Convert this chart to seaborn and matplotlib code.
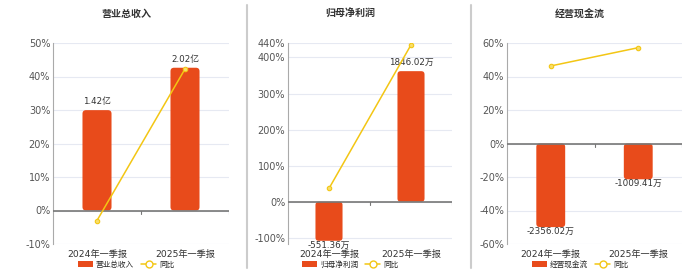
import matplotlib
matplotlib.use("Agg")
import matplotlib.pyplot as plt
import seaborn as sns
import pandas as pd
from matplotlib.patches import Patch, FancyBboxPatch
from matplotlib.lines import Line2D

# ---------------- data ----------------
categories = ["2024年一季报", "2025年一季报"]

titles = ["营业总收入", "归母净利润", "经营现金流"]
bar_names = ["营业总收入", "归母净利润", "经营现金流"]
line_name = "同比"

revenue = [1.42, 2.02]            # 亿
net_profit = [-551.36, 1846.02]   # 万
cash_flow = [-2356.02, -1009.41]  # 万
units = ["亿", "万", "万"]

revenue_yoy = [-3.0, 42.25]       # %
profit_yoy = [37.0, 434.8]
cash_yoy = [46.3, 57.2]

# axis settings (percent axis)
pct_limits = [(-10, 50), (-117, 440), (-60, 60)]
pct_ticks = [[-10, 0, 10, 20, 30, 40, 50],
             [-100, 0, 100, 200, 300, 400, 440],
             [-60, -40, -20, 0, 20, 40, 60]]
bar_scale = [0.0474, 5.1, 47.2]  # bar units per percent

bar_values = [revenue, net_profit, cash_flow]
yoy_values = [revenue_yoy, profit_yoy, cash_yoy]

# ---------------- style ----------------
sns.set_theme(style="white")
plt.rcParams["font.family"] = ["DejaVu Sans", "Noto Sans CJK SC"]

BAR_C = "#E84B1B"
LINE_C = "#F3C614"
GRID_C = "#E6E9F2"
TXT_C = "#333333"
TICK_C = "#555555"

W, H = 700, 272
fig = plt.figure(figsize=(7.0, 2.72), dpi=100)

axes_px = [(53, 229), (288, 452), (507, 682)]
top_px, bot_px = 43, 244
center_px = [126, 350, 580]

for i in range(3):
    l, r = axes_px[i]
    rect = [l / W, 1 - bot_px / H, (r - l) / W, (bot_px - top_px) / H]
    ax = fig.add_axes(rect)
    lo, hi = pct_limits[i]
    ax.set_ylim(lo, hi)
    ax.set_xlim(-0.5, 1.5)
    ax.set_yticks(pct_ticks[i])
    ax.set_yticklabels([f"{t}%" for t in pct_ticks[i]], fontsize=7, color=TICK_C)
    for t in pct_ticks[i]:
        ax.axhline(t, color=GRID_C, lw=0.8, zorder=0)
    ax.set_xticks([0, 1])
    ax.set_xticklabels(categories, fontsize=6.6, color=TXT_C)
    ax.tick_params(axis="y", length=0, pad=2)
    ax.tick_params(axis="x", length=0, pad=4.5)
    for s in ["top", "right", "bottom"]:
        ax.spines[s].set_visible(False)
    ax.spines["left"].set_color("#AAAAAA")
    ax.spines["left"].set_linewidth(0.8)

    # bars on hidden twin axis
    axb = ax.twinx()
    sc = bar_scale[i]
    axb.set_ylim(lo * sc, hi * sc)
    df = pd.DataFrame({"cat": categories, "val": bar_values[i]})
    sns.barplot(data=df, x="cat", y="val", ax=axb, color=BAR_C, width=0.33,
                saturation=1, edgecolor="none")
    axb.set_xlim(-0.5, 1.5)
    axb.set_ylim(lo * sc, hi * sc)
    axb.set_yticks([])
    axb.set_ylabel("")
    axb.set_xlabel("")
    for s in axb.spines.values():
        s.set_visible(False)

    # rounded bars
    fig.canvas.draw()
    bb = axb.get_window_extent()
    xpx = bb.width / 2.0
    ypx = bb.height / ((hi - lo) * sc)
    aspect = xpx / ypx
    for p in list(axb.patches):
        x0, y0 = p.get_x(), p.get_y()
        w, h = p.get_width(), p.get_height()
        ybot, yh = (y0, h) if h >= 0 else (y0 + h, -h)
        fb = FancyBboxPatch((x0, ybot), w, yh,
                            boxstyle="round,pad=0,rounding_size=0.04",
                            mutation_aspect=aspect, facecolor=BAR_C,
                            edgecolor="none", zorder=2)
        axb.add_patch(fb)
        p.remove()

    # labels on bars
    for k, v in enumerate(bar_values[i]):
        txt = f"{v:.2f}{units[i]}"
        if v >= 0:
            axb.text(k, v + 4 / ypx, txt, ha="center", va="bottom",
                     fontsize=6.3, color=TXT_C)
        else:
            axb.text(k, v, txt, ha="center", va="top",
                     fontsize=6.3, color=TXT_C)

    # line on top twin
    axl = ax.twinx()
    axl.set_ylim(lo, hi)
    dl = pd.DataFrame({"x": [0, 1], "yoy": yoy_values[i]})
    sns.lineplot(data=dl, x="x", y="yoy", ax=axl, color=LINE_C, lw=1.1,
                 marker="o", markersize=3.2, markerfacecolor="#F8DE6A",
                 markeredgecolor=LINE_C, markeredgewidth=0.8)
    axl.set_xlim(-0.5, 1.5)
    axl.set_ylim(lo, hi)
    axl.set_yticks([])
    axl.set_ylabel("")
    axl.set_xlabel("")
    for s in axl.spines.values():
        s.set_visible(False)

    # zero baseline and small ticks
    axl.axhline(0, color="#777777", lw=1.2, zorder=1)
    pct_px = (bot_px - top_px) / (hi - lo)
    for xt in [0.5, 1.5]:
        axl.plot([xt, xt], [0, -3 / pct_px], color="#777777", lw=0.8)

    # title
    fig.text(center_px[i] / W, 1 - 14 / H, titles[i], ha="center", va="center",
             fontsize=7.2, fontweight="bold", color=TXT_C)

    # legend
    handles = [Patch(facecolor=BAR_C, edgecolor="none"),
               Line2D([0], [0], color=LINE_C, lw=1.1, marker="o", markersize=5,
                      markerfacecolor="white", markeredgecolor=LINE_C,
                      markeredgewidth=1.0)]
    fig.legend(handles, [bar_names[i], line_name], loc="center",
               bbox_to_anchor=(center_px[i] / W, 1 - 264 / H), ncol=2,
               frameon=False, fontsize=5.5, handlelength=2.0, handleheight=0.9,
               columnspacing=0.9, handletextpad=0.4, borderpad=0.1)

# dividers
for xd in [247, 471]:
    fig.add_artist(Line2D([xd / W, xd / W], [1 - 268 / H, 1 - 5 / H],
                          color="#CCCCCC", lw=1.5))

fig.savefig("out.png", dpi=100)
